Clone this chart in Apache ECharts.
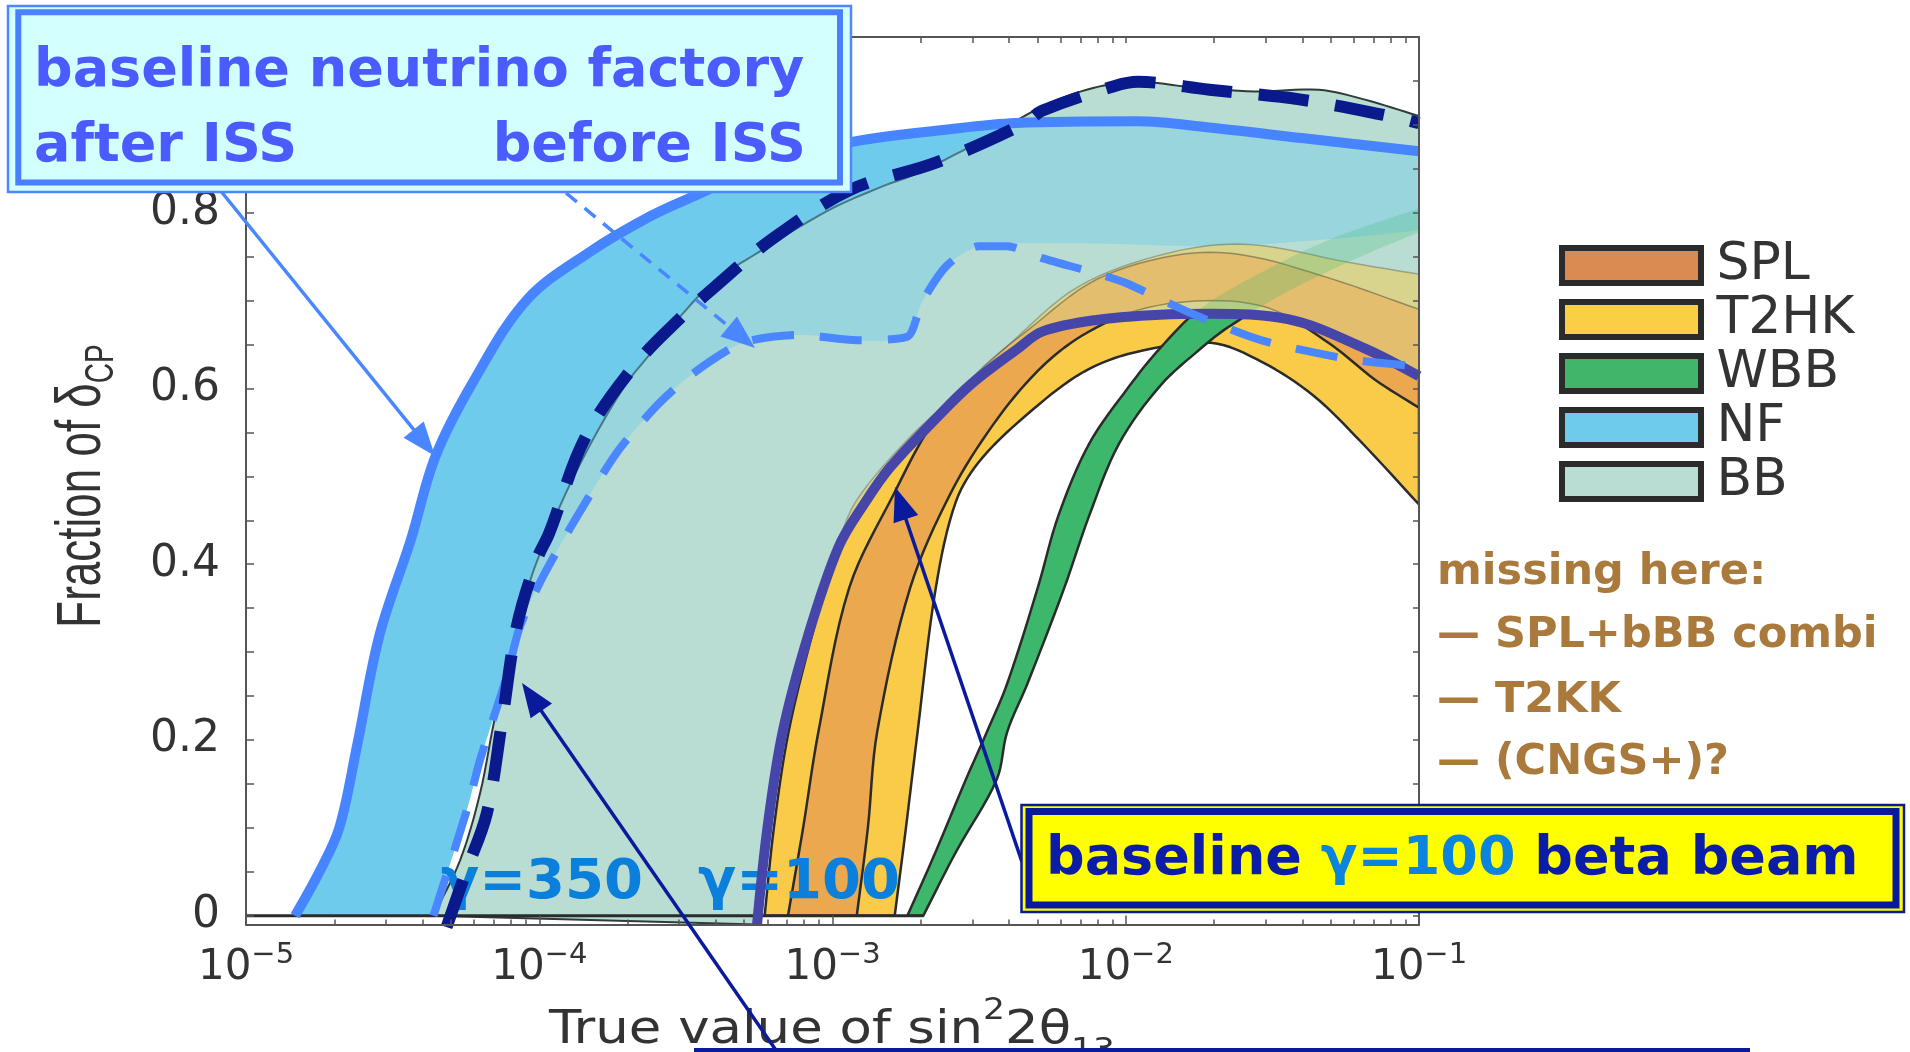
<!DOCTYPE html>
<html>
<head>
<meta charset="utf-8">
<title>Fraction of δCP vs true value of sin²2θ13</title>
<script src="https://cdn.jsdelivr.net/npm/echarts@6.0.0/dist/echarts.min.js"></script>
<style>
html,body{margin:0;padding:0;background:#ffffff;overflow:hidden;}
#chart{width:1910px;height:1052px;}
</style>
</head>
<body>
<div id="chart"></div>
<script>
// ---------------- data: x = true value of sin^2 2θ13, y = fraction of δCP ----------------
const nfAfterISS = [[1.47e-5,0],[1.78e-5,0.05],[2.08e-5,0.10],[2.39e-5,0.193],[2.85e-5,0.319],[3.65e-5,0.428],[4.43e-5,0.523],[5.96e-5,0.608],[9.08e-5,0.701],[1.48e-4,0.755],[2.39e-4,0.796],[3.43e-4,0.820],[6.31e-4,0.858],[1.18e-3,0.881],[2.51e-3,0.895],[4.23e-3,0.902],[1.10e-2,0.904],[1.92e-2,0.897],[3.98e-2,0.885],[1e-1,0.870]];
const nfBandLower = [[4.36e-5,0],[5.66e-5,0.12],[6.28e-5,0.177],[7.74e-5,0.272],[8.59e-5,0.329],[1.03e-4,0.386],[1.29e-4,0.444],[1.83e-4,0.526],[2.51e-4,0.58],[3.34e-4,0.617],[4.94e-4,0.652],[7.74e-4,0.661],[1.21e-3,0.655],[1.80e-3,0.659],[2.01e-3,0.697],[2.44e-3,0.739],[3.15e-3,0.762],[3.94e-3,0.765],[7.94e-3,0.765],[2.00e-2,0.762],[5.01e-2,0.770],[1e-1,0.780]];
const nfBeforeISS = [[4.36e-5,0],[5.66e-5,0.12],[6.28e-5,0.177],[7.74e-5,0.272],[8.59e-5,0.329],[1.03e-4,0.386],[1.29e-4,0.444],[1.83e-4,0.526],[2.51e-4,0.58],[3.34e-4,0.617],[4.94e-4,0.652],[7.74e-4,0.661],[1.21e-3,0.655],[1.80e-3,0.659],[2.01e-3,0.697],[2.44e-3,0.739],[3.15e-3,0.762],[3.94e-3,0.762],[5.22e-3,0.748],[7.94e-3,0.731],[1.00e-2,0.720],[1.66e-2,0.686],[2.89e-2,0.655],[5.86e-2,0.633],[1e-1,0.625]];
const bbUpper = [[4.36e-5,0],[5.37e-5,0.063],[6.28e-5,0.139],[7.16e-5,0.234],[8.17e-5,0.295],[9.06e-5,0.367],[1.00e-4,0.410],[1.33e-4,0.504],[1.93e-4,0.600],[2.51e-4,0.648],[2.99e-4,0.680],[3.95e-4,0.722],[5.53e-4,0.754],[9.71e-4,0.803],[1.48e-3,0.830],[1.95e-3,0.845],[3.43e-3,0.887],[5.21e-3,0.921],[7.74e-3,0.942],[1.10e-2,0.949],[1.66e-2,0.943],[2.75e-2,0.938],[4.55e-2,0.940],[6.49e-2,0.929],[1e-1,0.910]];
const bbGamma350 = [[4.83e-5,-0.013],[5.62e-5,0.05],[6.62e-5,0.116],[7.45e-5,0.219],[8.38e-5,0.329],[9.80e-5,0.405],[1.08e-4,0.435],[1.43e-4,0.543],[2.10e-4,0.625],[3.09e-4,0.683],[3.95e-4,0.715],[6.17e-4,0.769],[1.15e-3,0.826],[2.25e-3,0.857],[4.54e-3,0.902],[5.18e-3,0.916],[9.12e-3,0.944],[1.10e-2,0.949],[1.93e-2,0.940],[3.91e-2,0.929],[7.94e-2,0.910],[1e-1,0.902]];
const bbGamma100 = [[5.53e-4,-0.01],[6.00e-4,0.10],[6.76e-4,0.209],[8.26e-4,0.319],[1.05e-3,0.420],[1.29e-3,0.470],[1.57e-3,0.510],[2.24e-3,0.565],[2.97e-3,0.605],[4.27e-3,0.645],[5.21e-3,0.665],[7.94e-3,0.678],[1.31e-2,0.684],[1.95e-2,0.685],[3.57e-2,0.679],[6.50e-2,0.646],[1e-1,0.614]];
const t2hkOuter = [[5.87e-4,0],[6.31e-4,0.10],[7.08e-4,0.209],[8.51e-4,0.319],[1.05e-3,0.425],[1.21e-3,0.473],[1.78e-3,0.540],[2.59e-3,0.591],[3.94e-3,0.648],[6.90e-3,0.716],[1.39e-2,0.754],[2.61e-2,0.764],[5.86e-2,0.743],[1e-1,0.730]];
const t2hkInner = [[1.63e-3,0],[1.78e-3,0.10],[1.95e-3,0.209],[2.25e-3,0.373],[2.64e-3,0.472],[3.24e-3,0.521],[4.82e-3,0.576],[7.19e-3,0.619],[1.07e-2,0.641],[1.95e-2,0.652],[2.92e-2,0.630],[4.36e-2,0.592],[6.31e-2,0.540],[1e-1,0.468]];
const splOuter = [[7.05e-4,0],[7.94e-4,0.10],[8.95e-4,0.209],[1.14e-3,0.373],[1.63e-3,0.482],[2.19e-3,0.560],[3.16e-3,0.620],[4.66e-3,0.667],[7.94e-3,0.724],[1.50e-2,0.752],[2.51e-2,0.752],[5.01e-2,0.725],[1e-1,0.690]];
const splInner = [[1.21e-3,0],[1.32e-3,0.10],[1.42e-3,0.209],[1.84e-3,0.373],[2.54e-3,0.482],[3.55e-3,0.560],[5.01e-3,0.620],[7.08e-3,0.660],[1.12e-2,0.690],[2.00e-2,0.700],[3.16e-2,0.690],[5.01e-2,0.650],[7.08e-2,0.610],[1e-1,0.578]];
const wbbOuter = [[1.80e-3,0],[2.25e-3,0.073],[2.85e-3,0.155],[3.36e-3,0.209],[3.94e-3,0.264],[5.01e-3,0.373],[5.89e-3,0.455],[7.50e-3,0.537],[1.03e-2,0.603],[1.31e-2,0.646],[1.78e-2,0.690],[2.82e-2,0.730],[5.01e-2,0.770],[1e-1,0.805]];
const wbbInner = [[2.04e-3,0],[2.64e-3,0.073],[3.63e-3,0.155],[3.94e-3,0.209],[4.62e-3,0.264],[6.17e-3,0.373],[7.50e-3,0.455],[9.48e-3,0.537],[1.31e-2,0.603],[1.81e-2,0.646],[2.24e-2,0.670],[3.55e-2,0.710],[6.31e-2,0.750],[1e-1,0.778]];
const zeroLine = [[1e-5,0],[2.04e-3,0]];

// ---------------- ticks / labels / legend ----------------
const xMajorTicks = [1e-5, 1e-4, 1e-3, 1e-2, 1e-1];
const xTickExponents = ['−5', '−4', '−3', '−2', '−1'];
const yTickValues = [0, 0.2, 0.4, 0.6, 0.8, 1.0];
const yTickLabels = ['0', '0.2', '0.4', '0.6', '0.8', '1'];
const legendNames = ['SPL', 'T2HK', 'WBB', 'NF', 'BB'];
const legendColors = ['#d98b52', '#fbcf45', '#41b66a', '#6ecbea', '#b9ddd3'];

const xMinorTicks = [];
for (let e = -5; e <= -2; e++) for (let m = 2; m <= 9; m++) xMinorTicks.push(+(m * Math.pow(10, e)).toPrecision(3));
const yMinorTicks = [];
for (let k = 0; k <= 20; k++) yMinorTicks.push(+(k * 0.05).toFixed(2));

// ---------------- helpers ----------------
// smooth pixel path through the (already projected) boundary points (render-time only)
function smoothPixels(p, steps) {
  const out = [p[0].slice()];
  const dist = function (a, b) { return Math.hypot(b[0] - a[0], b[1] - a[1]); };
  for (let i = 0; i < p.length - 1; i++) {
    const p0 = p[i - 1] || p[i], p1 = p[i], p2 = p[i + 1], p3 = p[i + 2] || p[i + 1];
    const d01 = dist(p0, p1), d12 = dist(p1, p2), d23 = dist(p2, p3);
    let t1 = [0, 0], t2 = [0, 0];
    if (d01 + d12 > 0) t1 = [(p2[0] - p0[0]) / (d01 + d12), (p2[1] - p0[1]) / (d01 + d12)];
    if (d12 + d23 > 0) t2 = [(p3[0] - p1[0]) / (d12 + d23), (p3[1] - p1[1]) / (d12 + d23)];
    const k = d12 / 3;
    const c1 = [p1[0] + t1[0] * k, p1[1] + t1[1] * k];
    const c2 = [p2[0] - t2[0] * k, p2[1] - t2[1] * k];
    for (let s = 1; s <= steps; s++) {
      const t = s / steps, mt = 1 - t;
      const a = mt * mt * mt, b = 3 * mt * mt * t, c = 3 * mt * t * t, d = t * t * t;
      out.push([a * p1[0] + b * c1[0] + c * c2[0] + d * p2[0], a * p1[1] + b * c1[1] + c * c2[1] + d * p2[1]]);
    }
  }
  return out;
}
function ringPixels(api, upper, lower) {
  const up = smoothPixels(upper.map(function (v) { return api.coord(v); }), 8);
  const lo = smoothPixels(lower.map(function (v) { return api.coord(v); }), 8).reverse();
  return up.concat(lo);
}
function band(name, upper, lower, st, z, clip) {
  return {
    type: 'custom', name: name, z: z, silent: true, clip: true,
    coordinateSystem: 'cartesian2d', xAxisIndex: 0, yAxisIndex: 0,
    data: [upper[0]],
    itemStyle: { color: st.legend || st.fill },
    renderItem: function (params, api) {
      const el = {
        type: 'polygon',
        shape: { points: ringPixels(api, upper, lower) },
        style: { fill: st.fill, stroke: st.stroke || null, lineWidth: st.lineWidth || 0, lineJoin: 'round' }
      };
      if (clip) el.clipPath = { type: 'polygon', shape: { points: ringPixels(api, clip[0], clip[1]) } };
      return el;
    }
  };
}
function curve(name, data, color, width, dash, z, smooth) {
  return {
    type: 'line', name: name, data: data, z: z, silent: true, clip: true,
    xAxisIndex: 0, yAxisIndex: 0,
    symbol: 'none', showSymbol: false,
    smooth: smooth === undefined ? 0.35 : smooth,
    lineStyle: { color: color, width: width, type: dash || 'solid', cap: 'butt', join: 'round' },
    emphasis: { disabled: true }
  };
}
function arrow(tail, tip, color, dash, z) {
  const dx = tip[0] - tail[0], dy = tip[1] - tail[1];
  const len = Math.hypot(dx, dy), ux = dx / len, uy = dy / len;
  const L = 34, W = 13;
  const bx = tip[0] - ux * L, by = tip[1] - uy * L;
  return [
    { type: 'line', z: z, silent: true, shape: { x1: tail[0], y1: tail[1], x2: bx + ux * 6, y2: by + uy * 6 },
      style: { stroke: color, lineWidth: 3.5, lineDash: dash || null } },
    { type: 'polygon', z: z, silent: true, shape: { points: [tip, [bx - uy * W, by + ux * W], [bx + uy * W, by - ux * W]] },
      style: { fill: color } }
  ];
}

const axisGray = '#555555';
const labelGray = '#333333';
const xAxisBase = { type: 'log', logBase: 10, min: 1e-5, max: 1e-1, gridIndex: 0, z: 20, splitLine: { show: false } };
const yAxisBase = { type: 'value', min: -0.01, max: 1.0, gridIndex: 0, z: 20, splitLine: { show: false } };
const bbClip = [bbUpper, bbGamma100];

const chart = echarts.init(document.getElementById('chart'), null, { renderer: 'canvas', width: 1910, height: 1052 });

const option = {
  animation: false,
  backgroundColor: '#ffffff',
  grid: { left: 246, right: 491, top: 37, bottom: 127.5, containLabel: false, outerBoundsMode: 'none' },
  legend: {
    show: true, orient: 'vertical', left: 1559, top: 239.5, padding: 0, z: 30,
    itemWidth: 139, itemHeight: 35, itemGap: 2, icon: 'rect', selectedMode: false,
    formatter: function (name) { return '\u2009' + name; },
    textStyle: { fontFamily: 'DejaVu Sans', fontSize: 52, color: labelGray },
    data: legendNames.map(function (n, i) {
      return { name: n, icon: 'rect', itemStyle: { color: legendColors[i], borderColor: '#2b2b2b', borderWidth: 6 } };
    })
  },
  xAxis: [
    Object.assign({}, xAxisBase, {
      position: 'bottom',
      axisLine: { show: true, onZero: false, lineStyle: { color: axisGray, width: 2 } },
      axisTick: { show: true, inside: true, length: 9, customValues: xMajorTicks, lineStyle: { color: axisGray, width: 1.5 } },
      axisLabel: {
        show: true, customValues: xMajorTicks, margin: 16,
        formatter: function (v) {
          const i = xMajorTicks.findIndex(function (t) { return Math.abs(Math.log10(t) - Math.log10(v)) < 1e-6; });
          return '{b|10}{s|' + xTickExponents[i] + '}';
        },
        rich: {
          b: { fontFamily: 'DejaVu Sans', fontSize: 42, lineHeight: 56, color: labelGray },
          s: { fontFamily: 'DejaVu Sans', fontSize: 29, lineHeight: 30, color: labelGray, verticalAlign: 'top' }
        }
      }
    }),
    Object.assign({}, xAxisBase, {
      position: 'bottom',
      axisLine: { show: false, onZero: false },
      axisTick: { show: true, inside: true, length: 5, customValues: xMinorTicks, lineStyle: { color: axisGray, width: 1.5 } },
      axisLabel: { show: false }
    }),
    Object.assign({}, xAxisBase, {
      position: 'top',
      axisLine: { show: true, onZero: false, lineStyle: { color: axisGray, width: 2 } },
      axisTick: { show: true, inside: true, length: 6, customValues: xMajorTicks.concat(xMinorTicks), lineStyle: { color: axisGray, width: 1.5 } },
      axisLabel: { show: false }
    })
  ],
  yAxis: [
    Object.assign({}, yAxisBase, {
      position: 'left',
      axisLine: { show: true, onZero: false, lineStyle: { color: axisGray, width: 2 } },
      axisTick: { show: true, inside: true, length: 8, customValues: yMinorTicks, lineStyle: { color: axisGray, width: 1.5 } },
      axisLabel: {
        show: true, customValues: yTickValues, margin: 26,
        fontFamily: 'DejaVu Sans', fontSize: 44, color: labelGray,
        formatter: function (v) {
          const i = yTickValues.findIndex(function (t) { return Math.abs(t - v) < 1e-9; });
          return yTickLabels[i];
        }
      }
    }),
    Object.assign({}, yAxisBase, {
      position: 'right',
      axisLine: { show: true, onZero: false, lineStyle: { color: axisGray, width: 2 } },
      axisTick: { show: true, inside: true, length: 6, customValues: yMinorTicks, lineStyle: { color: axisGray, width: 1.5 } },
      axisLabel: { show: false }
    })
  ],
  series: [
    band('NF', nfAfterISS, nfBandLower, { fill: '#6ecbeb', legend: '#6ecbea' }, 1),
    band('T2HK', t2hkOuter, t2hkInner, { fill: '#f9cb48', stroke: '#2b2b2b', lineWidth: 2.5, legend: '#fbcf45' }, 2),
    band('SPL', splOuter, splInner, { fill: '#eba84f', stroke: '#2b2b2b', lineWidth: 2.5, legend: '#d98b52' }, 3),
    band('WBB', wbbOuter, wbbInner, { fill: '#3cb76b', stroke: '#2b2b2b', lineWidth: 2.5, legend: '#41b66a' }, 4),
    band('BB', bbUpper, bbGamma100, { fill: '#b9ddd3', stroke: '#2f3b3b', lineWidth: 2 }, 5),
    band('NF overlap', nfAfterISS, nfBandLower, { fill: 'rgba(110,203,235,0.42)' }, 6),
    band('T2HK overlap', t2hkOuter, t2hkInner, { fill: 'rgba(249,203,72,0.5)', stroke: 'rgba(40,40,40,0.3)', lineWidth: 1.5 }, 7, bbClip),
    band('SPL overlap', splOuter, splInner, { fill: 'rgba(235,168,79,0.5)', stroke: 'rgba(40,40,40,0.4)', lineWidth: 1.5 }, 7, bbClip),
    band('WBB overlap', wbbOuter, wbbInner, { fill: 'rgba(60,183,107,0.24)' }, 7, bbClip),
    curve('zero', zeroLine, '#2b2b2b', 3, null, 8, false),
    curve('γ=100 beta beam', bbGamma100, '#4646aa', 10, null, 10),
    curve('NF before ISS', nfBeforeISS, '#4a86ff', 8, [42, 26], 11, 0.25),
    curve('NF after ISS', nfAfterISS, '#4784ff', 10, null, 12),
    curve('γ=350 beta beam', bbGamma350, '#0a1a8c', 12, [50, 27], 13)
  ],
  graphic: {
    elements: [
      // axis titles
      { type: 'text', z: 25, x: 82, y: 486, rotation: Math.PI / 2, scaleY: 1.45, silent: true,
        style: { text: '{a|Fraction of δ}{b|CP}', align: 'center', verticalAlign: 'middle', fill: labelGray,
          rich: { a: { fontFamily: 'Liberation Sans', fontSize: 44, lineHeight: 56, fill: labelGray },
                  b: { fontFamily: 'Liberation Sans', fontSize: 28, lineHeight: 28, verticalAlign: 'bottom', fill: labelGray } } } },
      { type: 'text', z: 25, x: 832, y: 1031, scaleX: 1.15, silent: true,
        style: { text: '{a|True value of sin}{p|2}{a|2θ}{q|13}', align: 'center', verticalAlign: 'middle', fill: labelGray,
          rich: { a: { fontFamily: 'DejaVu Sans', fontSize: 46, lineHeight: 70, fill: labelGray },
                  p: { fontFamily: 'DejaVu Sans', fontSize: 30, lineHeight: 30, verticalAlign: 'top', fill: labelGray },
                  q: { fontFamily: 'DejaVu Sans', fontSize: 30, lineHeight: 30, verticalAlign: 'bottom', fill: labelGray } } } },
      // in-plot gamma labels (under the curves)
      { type: 'text', z: 9, x: 441, y: 883, silent: true,
        style: { text: 'γ=350', fill: '#0a80dc', font: 'bold 56px "DejaVu Sans"', align: 'left', verticalAlign: 'middle' } },
      { type: 'text', z: 9, x: 698, y: 883, silent: true,
        style: { text: 'γ=100', fill: '#0a80dc', font: 'bold 56px "DejaVu Sans"', align: 'left', verticalAlign: 'middle' } }
    ]
      .concat(arrow([220, 190], [435, 456], '#4a86ff', null, 39))
      .concat(arrow([566, 193], [755, 348], '#4a86ff', [14, 10], 39))
      .concat(arrow([780, 1056], [522, 683], '#0a1a9c', null, 39))
      .concat(arrow([1022, 862], [895, 487], '#0a1a9c', null, 39))
      .concat([
        // top-left annotation box
        { type: 'rect', z: 40, silent: true, shape: { x: 8, y: 6, width: 843, height: 186 },
          style: { fill: '#d4ffff', stroke: '#4f86ff', lineWidth: 2.5 } },
        { type: 'rect', z: 41, silent: true, shape: { x: 18.3, y: 12.2, width: 821.7, height: 170.3 },
          style: { fill: null, stroke: '#4a7fff', lineWidth: 6 } },
        { type: 'text', z: 42, x: 34, y: 72, silent: true,
          style: { text: 'baseline neutrino factory', fill: '#4b5cff', font: 'bold 54px "DejaVu Sans"', align: 'left', verticalAlign: 'middle' } },
        { type: 'text', z: 42, x: 34, y: 147, silent: true,
          style: { text: 'after ISS', fill: '#4b5cff', font: 'bold 54px "DejaVu Sans"', align: 'left', verticalAlign: 'middle' } },
        { type: 'text', z: 42, x: 806, y: 147, silent: true,
          style: { text: 'before ISS', fill: '#4b5cff', font: 'bold 54px "DejaVu Sans"', align: 'right', verticalAlign: 'middle' } },
        // yellow annotation box
        { type: 'rect', z: 40, silent: true, shape: { x: 1021.5, y: 805, width: 882.5, height: 107 },
          style: { fill: '#ffff00', stroke: '#0a1a9c', lineWidth: 2.5 } },
        { type: 'rect', z: 41, silent: true, shape: { x: 1029, y: 811.5, width: 867, height: 93.5 },
          style: { fill: null, stroke: '#0a1a9c', lineWidth: 7 } },
        { type: 'text', z: 42, x: 1046, y: 860, silent: true,
          style: { text: '{n|baseline }{g|γ=100}{n| beta beam}', align: 'left', verticalAlign: 'middle',
            rich: { n: { fill: '#0b1ca6', fontFamily: 'DejaVu Sans', fontWeight: 'bold', fontSize: 54 },
                    g: { fill: '#0a84dc', fontFamily: 'DejaVu Sans', fontWeight: 'bold', fontSize: 54 } } } },
        // bottom (cut-off) box edge
        { type: 'line', z: 40, silent: true, shape: { x1: 694, y1: 1050, x2: 1750, y2: 1050 },
          style: { stroke: '#0a1a9c', lineWidth: 4 } },
        // "missing here" notes
        { type: 'text', z: 40, x: 1437, y: 573, silent: true,
          style: { text: 'missing here:', fill: '#a97a3c', font: 'bold 43px "DejaVu Sans"', align: 'left', verticalAlign: 'middle' } },
        { type: 'text', z: 40, x: 1437, y: 636, silent: true,
          style: { text: '— SPL+bBB combi', fill: '#a97a3c', font: 'bold 43px "DejaVu Sans"', align: 'left', verticalAlign: 'middle' } },
        { type: 'text', z: 40, x: 1437, y: 701, silent: true,
          style: { text: '— T2KK', fill: '#a97a3c', font: 'bold 43px "DejaVu Sans"', align: 'left', verticalAlign: 'middle' } },
        { type: 'text', z: 40, x: 1437, y: 763, silent: true,
          style: { text: '— (CNGS+)?', fill: '#a97a3c', font: 'bold 43px "DejaVu Sans"', align: 'left', verticalAlign: 'middle' } }
      ])
  }
};
chart.setOption(option);
</script>
</body>
</html>
